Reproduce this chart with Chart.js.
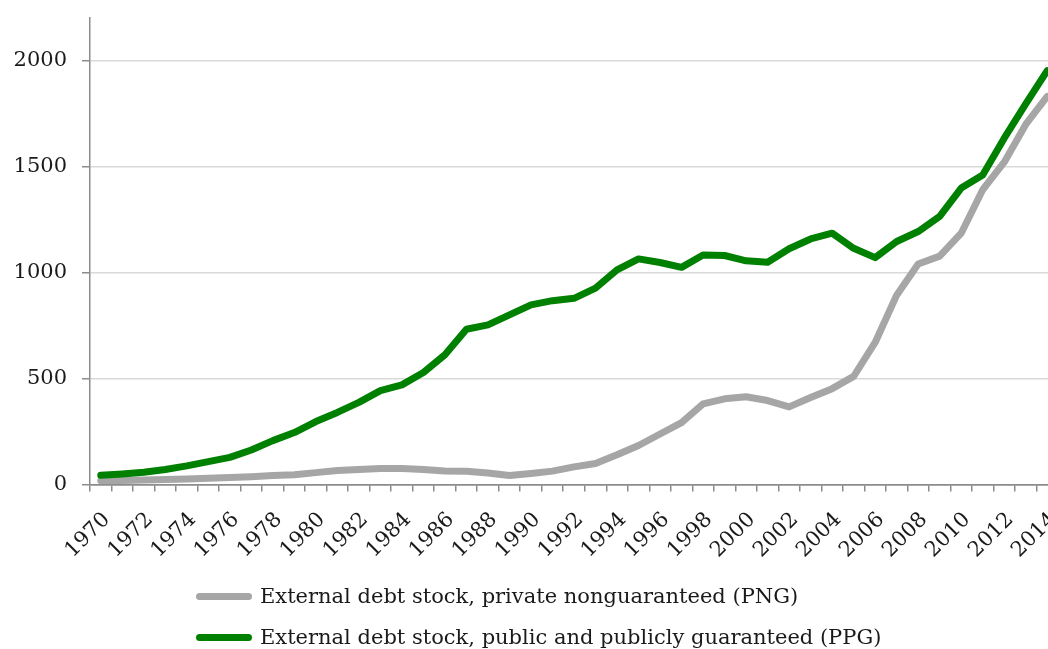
<!DOCTYPE html>
<html>
<head>
<meta charset="utf-8">
<script src="https://cdn.jsdelivr.net/npm/chart.js@4/dist/chart.umd.min.js"></script>
<style>
  html, body { margin: 0; padding: 0; background: #fff; overflow: hidden; }
  #wrap { position: relative; width: 1048px; height: 649px; overflow: hidden; }
  #c { position: absolute; left: 0; top: 0; }
  .leg { position: absolute; left: 196px; font-family: "DejaVu Serif", serif; font-size: 21px; color: #1a1a1a; white-space: nowrap; display: flex; align-items: center; height: 30px; }
  .leg .sw { display: inline-block; width: 56px; height: 7px; border-radius: 4px; margin-right: 8px; }
</style>
</head>
<body>
<div id="wrap">
  <canvas id="c" width="1070" height="649"></canvas>
</div>
<script>
const YEARS = ["1970","1971","1972","1973","1974","1975","1976","1977","1978","1979",
  "1980","1981","1982","1983","1984","1985","1986","1987","1988","1989",
  "1990","1991","1992","1993","1994","1995","1996","1997","1998","1999",
  "2000","2001","2002","2003","2004","2005","2006","2007","2008","2009",
  "2010","2011","2012","2013","2014"];

const PNG = [18, 19, 21, 23, 26, 29, 33, 37, 43, 46,
  56, 66, 71, 76, 76, 71, 64, 63, 54, 42,
  52, 63, 83, 99, 140, 184, 238, 292, 380, 404,
  414, 396, 366, 410, 452, 510, 670, 893, 1040, 1077,
  1185, 1390, 1520, 1698, 1830];

const PPG = [44, 50, 58, 71, 88, 108, 128, 163, 207, 245,
  297, 340, 387, 443, 470, 528, 612, 732, 753, 800,
  847, 867, 878, 926, 1012, 1064, 1047, 1024, 1082, 1080,
  1055, 1048, 1112, 1158, 1185, 1114, 1070, 1146, 1193, 1264,
  1398, 1460, 1633, 1795, 1952];

const SERIES_NAMES = [
  "External debt stock, private nonguaranteed (PNG)",
  "External debt stock, public and publicly guaranteed (PPG)"
];
const SERIES_COLORS = ["#a6a6a6", "#008000"];
const Y_TICKS = [0, 500, 1000, 1500, 2000];
const Y_MAX = 2200;

const AXIS = "#8c8c8c";
const GRID = "#d9d9d9";
const FONT = { family: "'DejaVu Serif', serif", size: 21 };

const chart = new Chart(document.getElementById("c"), {
  type: "line",
  data: {
    labels: YEARS,
    datasets: [
      { label: SERIES_NAMES[0], data: PNG, borderColor: SERIES_COLORS[0], backgroundColor: SERIES_COLORS[0], order: 1 },
      { label: SERIES_NAMES[1], data: PPG, borderColor: SERIES_COLORS[1], backgroundColor: SERIES_COLORS[1], order: 0 }
    ]
  },
  options: {
    responsive: false,
    animation: false,
    events: [],
    layout: { padding: { left: 0, right: 12, top: 18, bottom: 64.5 } },
    elements: {
      line: { borderWidth: 7, tension: 0, borderCapStyle: "round", borderJoinStyle: "round", fill: false },
      point: { radius: 0 }
    },
    plugins: { legend: { display: false }, tooltip: { enabled: false } },
    scales: {
      x: {
        type: "category",
        offset: true,
        grid: { offset: true, drawOnChartArea: false, drawTicks: true, tickLength: 7, color: AXIS, lineWidth: 1.5 },
        border: { display: true, color: AXIS, width: 1.5 },
        ticks: {
          autoSkip: false, maxRotation: 45, minRotation: 45, padding: 16, labelOffset: 6,
          color: "#1a1a1a", font: FONT,
          callback: (v, i) => (i % 2 === 0 ? YEARS[i] : "")
        },
        afterFit: s => { s.height = 100; s.paddingLeft = 0; s.paddingRight = 0; }
      },
      y: {
        min: 0, max: Y_MAX,
        ticks: { padding: 15, color: "#1a1a1a", font: FONT, callback: v => String(v) },
        afterBuildTicks: s => { s.ticks = Y_TICKS.map(v => ({ value: v })); },
        grid: {
          drawTicks: true, tickLength: 8, lineWidth: 1.5,
          color: ctx => (ctx.tick && ctx.tick.value === 0 ? AXIS : GRID),
          tickColor: AXIS
        },
        border: { display: true, color: AXIS, width: 1.5 },
        afterFit: s => { s.width = 90; s.paddingTop = 0; s.paddingBottom = 0; }
      }
    }
  }
});

// HTML legend built from the series arrays
const wrap = document.getElementById("wrap");
const LEG_TOP = [581, 622];
SERIES_NAMES.forEach((name, i) => {
  const d = document.createElement("div");
  d.className = "leg";
  d.style.top = LEG_TOP[i] + "px";
  const sw = document.createElement("span");
  sw.className = "sw";
  sw.style.background = SERIES_COLORS[i];
  d.appendChild(sw);
  d.appendChild(document.createTextNode(name));
  wrap.appendChild(d);
});
</script>
</body>
</html>
